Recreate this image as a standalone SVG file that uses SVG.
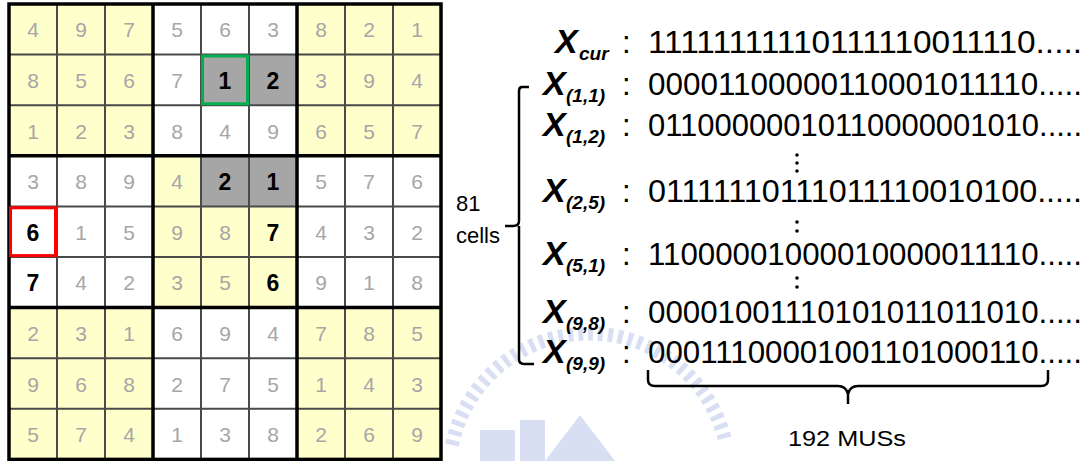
<svg xmlns="http://www.w3.org/2000/svg" width="1087" height="461" viewBox="0 0 1087 461">
<style>
.g{font-family:"Liberation Sans",Arial,sans-serif;font-size:21px;fill:#a6a6a6;text-anchor:middle}
.b{font-family:"Liberation Sans",Arial,sans-serif;font-size:23px;font-weight:bold;fill:#000;text-anchor:middle}
.thin{stroke:#4a4a4a;stroke-width:2;fill:none}
.thick{stroke:#000;stroke-width:3.5;fill:none}
.yel{fill:#ffffcc}
.gry{fill:#a6a6a6}
.bits{font-family:"Liberation Sans",Arial,sans-serif;font-size:31px;fill:#000}
.xl{font-family:"Liberation Sans",Arial,sans-serif;font-size:34px;font-weight:bold;font-style:italic;fill:#000}
.xs{font-family:"Liberation Sans",Arial,sans-serif;font-size:19px;font-weight:bold;font-style:italic;fill:#000}
.lbl{font-family:"Liberation Sans",Arial,sans-serif;font-size:22px;fill:#000}
.br{stroke:#000;stroke-width:2.5;fill:none;stroke-linejoin:round}
.wm{fill:#c9d1ee;opacity:0.7}
</style>
<rect width="1087" height="461" fill="#fff"/>

<g id="watermark">
<path d="M452,445 A140,140 0 0 1 725,440" fill="none" stroke="#c9d1ee" stroke-width="14" stroke-dasharray="5 5" opacity="0.7"/>
<rect class="wm" x="480" y="430" width="35" height="31"/>
<rect class="wm" x="520" y="420" width="25" height="41"/>
<polygon class="wm" points="545,461 580,415 615,461"/>
</g>

<g id="sudoku">
<rect x="9" y="4" width="432" height="455.4" fill="#fff"/>
<rect class="yel" x="9" y="4" width="144" height="151.8"/>
<rect class="yel" x="297" y="4" width="144" height="151.8"/>
<rect class="yel" x="153" y="155.8" width="144" height="151.6"/>
<rect class="yel" x="9" y="307.4" width="144" height="152"/>
<rect class="yel" x="297" y="307.4" width="144" height="152"/>
<rect class="gry" x="201" y="54.6" width="96" height="50.6"/>
<rect class="gry" x="201" y="155.8" width="96" height="50.6"/>
<g id="grid-lines">
<path class="thin" d="M57,4V459.4M105,4V459.4M201,4V459.4M249,4V459.4M345,4V459.4M393,4V459.4M9,54.6H441M9,105.2H441M9,206.4H441M9,257H441M9,358.2H441M9,408.8H441"/>
<path class="thick" d="M153,4V459.4M297,4V459.4M9,155.8H441M9,307.6H441"/>
<rect class="thick" x="9" y="4" width="432" height="455.4"/>
</g>
<rect x="202.5" y="56" width="45" height="47.8" fill="none" stroke="#00b050" stroke-width="3"/>
<rect x="10.5" y="207.8" width="45" height="47.8" fill="none" stroke="#ff0000" stroke-width="3"/>
<g id="digits">
<text class="g" x="33" y="37">4</text><text class="g" x="81" y="37">9</text><text class="g" x="129" y="37">7</text><text class="g" x="177" y="37">5</text><text class="g" x="225" y="37">6</text><text class="g" x="273" y="37">3</text><text class="g" x="321" y="37">8</text><text class="g" x="369" y="37">2</text><text class="g" x="417" y="37">1</text>
<text class="g" x="33" y="88">8</text><text class="g" x="81" y="88">5</text><text class="g" x="129" y="88">6</text><text class="g" x="177" y="88">7</text><text class="b" x="225" y="88.5">1</text><text class="b" x="273" y="88.5">2</text><text class="g" x="321" y="88">3</text><text class="g" x="369" y="88">9</text><text class="g" x="417" y="88">4</text>
<text class="g" x="33" y="138.5">1</text><text class="g" x="81" y="138.5">2</text><text class="g" x="129" y="138.5">3</text><text class="g" x="177" y="138.5">8</text><text class="g" x="225" y="138.5">4</text><text class="g" x="273" y="138.5">9</text><text class="g" x="321" y="138.5">6</text><text class="g" x="369" y="138.5">5</text><text class="g" x="417" y="138.5">7</text>
<text class="g" x="33" y="189">3</text><text class="g" x="81" y="189">8</text><text class="g" x="129" y="189">9</text><text class="g" x="177" y="189">4</text><text class="b" x="225" y="189.5">2</text><text class="b" x="273" y="189.5">1</text><text class="g" x="321" y="189">5</text><text class="g" x="369" y="189">7</text><text class="g" x="417" y="189">6</text>
<text class="b" x="33" y="240.5">6</text><text class="g" x="81" y="240">1</text><text class="g" x="129" y="240">5</text><text class="g" x="177" y="240">9</text><text class="g" x="225" y="240">8</text><text class="b" x="273" y="240.5">7</text><text class="g" x="321" y="240">4</text><text class="g" x="369" y="240">3</text><text class="g" x="417" y="240">2</text>
<text class="b" x="33" y="290.5">7</text><text class="g" x="81" y="290">4</text><text class="g" x="129" y="290">2</text><text class="g" x="177" y="290">3</text><text class="g" x="225" y="290">5</text><text class="b" x="273" y="290.5">6</text><text class="g" x="321" y="290">9</text><text class="g" x="369" y="290">1</text><text class="g" x="417" y="290">8</text>
<text class="g" x="33" y="341">2</text><text class="g" x="81" y="341">3</text><text class="g" x="129" y="341">1</text><text class="g" x="177" y="341">6</text><text class="g" x="225" y="341">9</text><text class="g" x="273" y="341">4</text><text class="g" x="321" y="341">7</text><text class="g" x="369" y="341">8</text><text class="g" x="417" y="341">5</text>
<text class="g" x="33" y="391.5">9</text><text class="g" x="81" y="391.5">6</text><text class="g" x="129" y="391.5">8</text><text class="g" x="177" y="391.5">2</text><text class="g" x="225" y="391.5">7</text><text class="g" x="273" y="391.5">5</text><text class="g" x="321" y="391.5">1</text><text class="g" x="369" y="391.5">4</text><text class="g" x="417" y="391.5">3</text>
<text class="g" x="33" y="442">5</text><text class="g" x="81" y="442">7</text><text class="g" x="129" y="442">4</text><text class="g" x="177" y="442">1</text><text class="g" x="225" y="442">3</text><text class="g" x="273" y="442">8</text><text class="g" x="321" y="442">2</text><text class="g" x="369" y="442">6</text><text class="g" x="417" y="442">9</text>
</g>
</g>

<g id="row-cur">
<text class="xl" x="555" y="53">X</text><text class="xs" x="579" y="60">cur</text>
<text class="bits" x="622" y="53">:</text>
<text class="bits" x="648" y="53" textLength="434" lengthAdjust="spacingAndGlyphs">11111111110111110011110.....</text>
</g>
<g id="row-1-1">
<text class="xl" x="543" y="95">X</text><text class="xs" x="566" y="102">(1,1)</text>
<text class="bits" x="622" y="95">:</text>
<text class="bits" x="648" y="95" textLength="434" lengthAdjust="spacingAndGlyphs">00001100000110001011110.....</text>
</g>
<g id="row-1-2">
<text class="xl" x="543" y="136">X</text><text class="xs" x="566" y="143">(1,2)</text>
<text class="bits" x="622" y="136">:</text>
<text class="bits" x="648" y="136" textLength="434" lengthAdjust="spacingAndGlyphs">01100000010110000001010.....</text>
</g>
<g id="row-2-5">
<text class="xl" x="543" y="202">X</text><text class="xs" x="566" y="209">(2,5)</text>
<text class="bits" x="622" y="202">:</text>
<text class="bits" x="648" y="202" textLength="434" lengthAdjust="spacingAndGlyphs">01111110111011110010100.....</text>
</g>
<g id="row-5-1">
<text class="xl" x="543" y="265">X</text><text class="xs" x="566" y="272">(5,1)</text>
<text class="bits" x="622" y="265">:</text>
<text class="bits" x="648" y="265" textLength="434" lengthAdjust="spacingAndGlyphs">11000001000010000011110.....</text>
</g>
<g id="row-9-8">
<text class="xl" x="543" y="323">X</text><text class="xs" x="566" y="330">(9,8)</text>
<text class="bits" x="622" y="323">:</text>
<text class="bits" x="648" y="323" textLength="434" lengthAdjust="spacingAndGlyphs">00001001110101011011010.....</text>
</g>
<g id="row-9-9">
<text class="xl" x="543" y="363">X</text><text class="xs" x="566" y="370">(9,9)</text>
<text class="bits" x="622" y="363">:</text>
<text class="bits" x="648" y="363" textLength="434" lengthAdjust="spacingAndGlyphs">00011100001001101000110.....</text>
</g>

<g id="vdots" fill="#000">
<circle cx="797" cy="155" r="1.8"/><circle cx="797" cy="163" r="1.8"/><circle cx="797" cy="171" r="1.8"/>
<circle cx="797" cy="222" r="1.8"/><circle cx="797" cy="231" r="1.8"/>
<circle cx="797" cy="278" r="1.8"/><circle cx="797" cy="287" r="1.8"/>
</g>

<g id="label-cells">
<text class="lbl" x="456" y="211">81</text>
<text class="lbl" x="456" y="243">cells</text>
</g>
<g id="label-mus">
<text class="lbl" x="847" y="446" text-anchor="middle" font-size="24" textLength="118" lengthAdjust="spacingAndGlyphs">192 MUSs</text>
</g>

<g id="connectors">
<path class="br" d="M529,87H522Q519,87 519,91V221Q519,226 513,226H505M519,226V359Q519,364 524,364H534"/>
<path class="br" d="M648,370V380Q648,386 655,386H838Q846,386 848,394V404M848,394Q850,386 858,386H1041Q1048,386 1048,380V370"/>
</g>
</svg>
